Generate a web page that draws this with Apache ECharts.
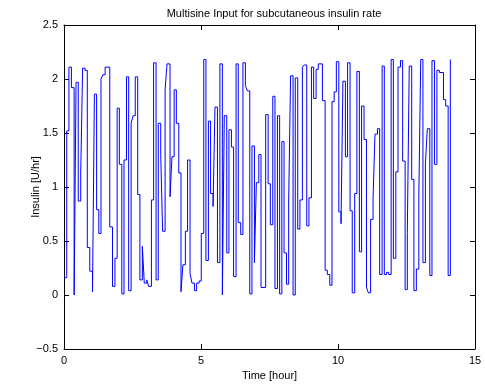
<!DOCTYPE html>
<html>
<head>
<meta charset="utf-8">
<script src="https://cdn.jsdelivr.net/npm/echarts@6/dist/echarts.min.js"></script>
<style>
    html, body { margin: 0; padding: 0; background: #fff; }
    #chart { width: 485px; height: 387px; }
</style>
</head>
<body>
<div id="chart"></div>
<script>
// start time of each step [hour]
var times = [
    0.00, 0.10, 0.18, 0.27, 0.37, 0.44, 0.52, 0.61, 0.68, 0.77, 0.85, 0.94,
    1.04, 1.11, 1.19, 1.27, 1.35, 1.42, 1.50, 1.67, 1.77, 1.86, 1.94,
    2.02, 2.11, 2.19, 2.28, 2.36, 2.45, 2.52, 2.60, 2.69, 2.77, 2.86, 2.93,
    3.02, 3.09, 3.19, 3.27, 3.36, 3.44, 3.53, 3.60, 3.69, 3.76, 3.87, 3.94,
    4.02, 4.10, 4.19, 4.27, 4.34, 4.43, 4.51, 4.60, 4.67, 4.76, 4.84, 4.93,
    5.01, 5.10, 5.18, 5.27, 5.35, 5.44, 5.51, 5.60, 5.69, 5.78, 5.85, 5.94,
    6.02, 6.11, 6.19, 6.28, 6.36, 6.45, 6.53, 6.62, 6.69, 6.78, 6.86, 6.95,
    7.02, 7.11, 7.19, 7.36, 7.45, 7.53, 7.62, 7.70, 7.79, 7.87, 7.95,
    8.03, 8.12, 8.20, 8.27, 8.36, 8.44, 8.53, 8.61, 8.70, 8.77, 8.86, 8.94,
    9.03, 9.11, 9.20, 9.28, 9.43, 9.53, 9.61, 9.70, 9.78, 9.86, 9.94,
    10.03, 10.11, 10.18, 10.27, 10.35, 10.44, 10.52, 10.61, 10.69, 10.78, 10.86, 10.95,
    11.04, 11.11, 11.19, 11.28, 11.35, 11.44, 11.52, 11.61, 11.69, 11.77, 11.85, 11.94,
    12.02, 12.11, 12.19, 12.28, 12.36, 12.45, 12.53, 12.60, 12.69, 12.77, 12.86, 12.95,
    13.02, 13.10, 13.19, 13.26, 13.35, 13.43, 13.52, 13.61, 13.70, 13.85, 13.93,
    14.02, 14.10
];
// insulin rate [U/hr]
var insulin = [
    0.16, 1.52, 2.11, 1.92, 0.00, 1.97, 0.87, 1.13, 2.10, 2.08, 0.44, 0.22,
    0.03, 1.86, 0.79, 0.57, 2.00, 2.04, 2.11, 0.63, 0.08, 0.34, 1.73,
    1.21, 0.01, 1.25, 2.02, 0.04, 1.59, 1.66, 2.02, 0.93, 0.14, 0.45, 0.11,
    0.14, 0.08, 0.88, 2.15, 0.14, 1.59, 1.30, 0.59, 1.90, 2.14, 0.91, 1.28,
    1.90, 1.59, 1.13, 0.03, 0.28, 0.59, 1.25, 0.20, 0.11, 0.04, 0.11, 0.13,
    0.57, 2.18, 0.32, 1.61, 0.94, 0.82, 1.74, 0.30, 2.14, 0.00, 1.66, 0.39,
    1.53, 1.37, 0.17, 2.14, 0.67, 0.56, 2.15, 1.94, 1.89, 0.01, 1.38, 0.30,
    1.04, 1.30, 0.07, 1.67, 1.03, 0.65, 1.84, 0.06, 1.66, 0.01, 1.42,
    0.39, 0.10, 0.87, 2.03, 0.00, 2.01, 0.61, 0.88, 2.11, 2.13, 0.64, 0.90,
    2.11, 1.82, 2.09, 2.14, 1.80, 0.23, 0.19, 0.09, 1.79, 1.88, 2.16,
    0.77, 0.66, 1.98, 1.28, 2.15, 0.78, 0.02, 0.94, 2.07, 0.40, 1.75, 1.44,
    0.07, 0.02, 0.70, 0.90, 1.49, 1.54, 0.19, 2.12, 0.19, 0.21, 0.19, 2.18,
    0.34, 1.14, 2.11, 2.17, 1.24, 0.05, 0.58, 2.12, 1.07, 0.04, 0.24, 0.93,
    2.18, 0.30, 1.21, 1.54, 0.18, 2.17, 1.21, 2.08, 2.06, 1.81, 1.75,
    0.18, 2.18
];
var xTicks = { min: 0, max: 15, interval: 5 };
var yTicks = { min: -0.5, max: 2.5, interval: 0.5 };

var chart = echarts.init(document.getElementById('chart'));

// stairs: hold each value until the next time, then jump
var points = [];
for (var i = 0; i < times.length; i++) {
    points.push([times[i], insulin[i]]);
    if (i + 1 < times.length) {
        points.push([times[i + 1], insulin[i]]);
    }
}

var font = 'Liberation Sans, Arial, Helvetica, sans-serif';
var axisLine = { show: true, onZero: false, lineStyle: { color: '#000', width: 1 } };
var tick = { show: true, inside: true, length: 5, lineStyle: { color: '#000' } };

var option = {
    animation: false,
    backgroundColor: '#fff',
    title: {
        text: 'Multisine Input for subcutaneous insulin rate',
        left: 269,
        top: 3,
        textAlign: 'center',
        textStyle: { fontFamily: font, fontSize: 11, fontWeight: 'normal', color: '#000' }
    },
    grid: { left: 64, right: 10, top: 25, bottom: 38 },
    xAxis: [{
        type: 'value',
        min: xTicks.min, max: xTicks.max, interval: xTicks.interval,
        name: 'Time [hour]',
        nameLocation: 'middle',
        nameGap: 21,
        nameTextStyle: { fontFamily: font, fontSize: 11, color: '#000' },
        axisLine: axisLine,
        axisTick: tick,
        axisLabel: { fontFamily: font, fontSize: 11, color: '#000', margin: 6 },
        splitLine: { show: false }
    }, {
        type: 'value',
        position: 'top',
        min: xTicks.min, max: xTicks.max, interval: xTicks.interval,
        axisLine: axisLine,
        axisTick: tick,
        axisLabel: { show: false },
        splitLine: { show: false }
    }],
    yAxis: [{
        type: 'value',
        min: yTicks.min, max: yTicks.max, interval: yTicks.interval,
        name: 'Insulin [U/hr]',
        nameLocation: 'middle',
        nameGap: 23,
        nameMoveOverlap: false,
        nameTextStyle: { fontFamily: font, fontSize: 11, color: '#000' },
        axisLine: axisLine,
        axisTick: tick,
        axisLabel: {
            fontFamily: font, fontSize: 11, color: '#000', margin: 6,
            formatter: function (v) { return String(v).replace('-', '\u2212'); }
        },
        splitLine: { show: false }
    }, {
        type: 'value',
        position: 'right',
        min: yTicks.min, max: yTicks.max, interval: yTicks.interval,
        axisLine: axisLine,
        axisTick: tick,
        axisLabel: { show: false },
        splitLine: { show: false }
    }],
    series: [{
        type: 'line',
        data: points,
        symbol: 'none',
        lineStyle: { color: '#0000ff', width: 1 }
    }]
};

chart.setOption(option);
</script>
</body>
</html>
